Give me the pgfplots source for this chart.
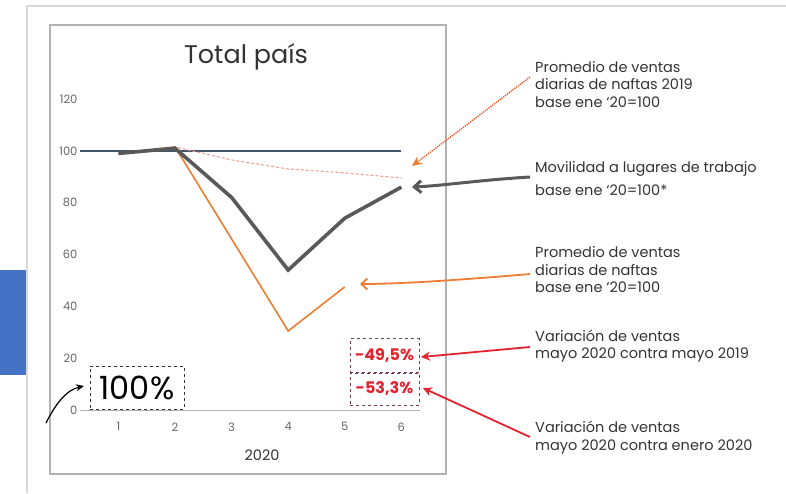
\documentclass[border=0pt]{standalone}
\usepackage{fontspec}
\setmainfont{Poppins}
\usepackage{pgfplots}
\pgfplotsset{compat=1.18}
\usetikzlibrary{arrows.meta}
\definecolor{navy}{HTML}{44546A}
\definecolor{dgray}{HTML}{595959}
\definecolor{orng}{HTML}{ED7D31}
\definecolor{pinkl}{HTML}{F2A29A}
\definecolor{redt}{HTML}{E3222E}
\definecolor{boxc}{HTML}{7A3E5A}
\definecolor{slideblue}{HTML}{4472C4}
\definecolor{txt}{HTML}{333333}
\begin{document}
\begin{tikzpicture}[x=1pt,y=1pt]
\useasboundingbox (0,0) rectangle (786,493);
% background pieces (pixel coords: (px, 493-py))
\fill[slideblue] (0,493-270) rectangle (27,493-375);
\draw[black!15, line width=1.2pt] (27,0) -- (27,493-6) -- (786,493-6);
\draw[black!30, line width=1.2pt] (50,493-25) rectangle (446,493-474);
\begin{axis}[
  at={(80pt,83pt)}, anchor=south west,
  width=340pt, height=311pt, scale only axis,
  xmin=0.32, xmax=6.33, ymin=0, ymax=120,
  axis x line=bottom, axis y line=left,
  x axis line style={draw=black!30, line width=0.8pt, -},
  y axis line style={draw=none},
  xtick={1,2,3,4,5,6}, ytick={0,20,40,60,80,100,120},
  major tick length=0pt,
  tick label style={font=\fontsize{11.5}{13}\selectfont, text=black!60},
  xticklabel style={yshift=-9pt},
  yticklabel style={xshift=1pt},
  /pgf/number format/assume math mode=true,
  clip=false,
]
\addplot[navy, line width=1.6pt] coordinates {(0.32,100) (6,100)};
\addplot[pinkl, line width=1.1pt, densely dashed] coordinates {(1,98.5) (2,101.5) (3,96.5) (4,93) (5,91.5) (6,89.5)};
\addplot[orng, line width=1.6pt] coordinates {(1,99) (2,101.5) (3,66) (4,30.5) (5,47.5)};
\addplot[dgray, line width=3.6pt] coordinates {(1,99) (2,101) (3,82) (4,54) (5,74) (6,86)};
\end{axis}
% titles
\node[text=txt, font=\fontsize{25.5}{30}\selectfont] at (246,493-57) {Total país};
\node[text=txt, font=\fontsize{14.5}{16}\selectfont] at (262,493-455) {2020};
% boxes
\node[draw=black!80, dashed, line width=1pt, minimum width=94pt, minimum height=43pt, inner sep=0pt,
  font=\fontsize{32}{34}\selectfont] at (137,493-387.5) {100\%};
\node[draw=boxc, dashed, line width=1pt, minimum width=69pt, minimum height=34pt, inner sep=0pt,
  text=redt, font=\fontsize{16}{18}\selectfont\bfseries] at (384.5,493-355.5) {-49,5\%};
\node[draw=boxc, dashed, line width=1pt, minimum width=69pt, minimum height=32pt, inner sep=0pt,
  text=redt, font=\fontsize{16}{18}\selectfont\bfseries] at (384.5,493-389) {-53,3\%};
% side texts
\begin{scope}[every node/.style={anchor=west, align=left, inner sep=0pt, text=txt,
   font=\fontsize{14.5}{17.5}\selectfont}]
\node at (535,493-84.5) {Promedio de ventas\\diarias de naftas 2019\\base ene ‘20=100};
\node[font=\fontsize{14.5}{23}\selectfont] at (535,493-178.5) {Movilidad a lugares de trabajo\\base ene ‘20=100*};
\node at (535,493-270) {Promedio de ventas\\diarias de naftas\\base ene ‘20=100};
\node at (535,493-346) {Variación de ventas\\mayo 2020 contra mayo 2019};
\node at (535,493-437.5) {Variación de ventas\\mayo 2020 contra enero 2020};
\end{scope}
% arrows
\draw[orng!60!red, densely dotted, line width=1.3pt, -{Stealth[length=10pt,width=9pt,color=orng]}]
  (530,493-77) -- (412,493-166);
\draw[dgray, line width=3pt, -{Straight Barb[length=7pt,width=12pt]}]
  (530,493-177) .. controls (480,493-180) and (440,493-186) .. (412,493-187);
\draw[orng, line width=1.8pt, -{Straight Barb[length=6pt,width=11pt]}]
  (530,493-274) .. controls (460,493-280) and (400,493-284) .. (360,493-284);
\draw[redt, line width=1.8pt, -{Stealth[length=9pt,width=9pt]}]
  (530,493-347) -- (421,493-357);
\draw[redt, line width=1.8pt, -{Stealth[length=9pt,width=9pt]}]
  (530,493-437) -- (423,493-388);
\draw[black, line width=1.2pt, -{Stealth[length=8pt,width=7pt]}]
  (46,493-423) .. controls (55,493-405) and (66,493-390) .. (84,493-386);
\end{tikzpicture}
\end{document}
